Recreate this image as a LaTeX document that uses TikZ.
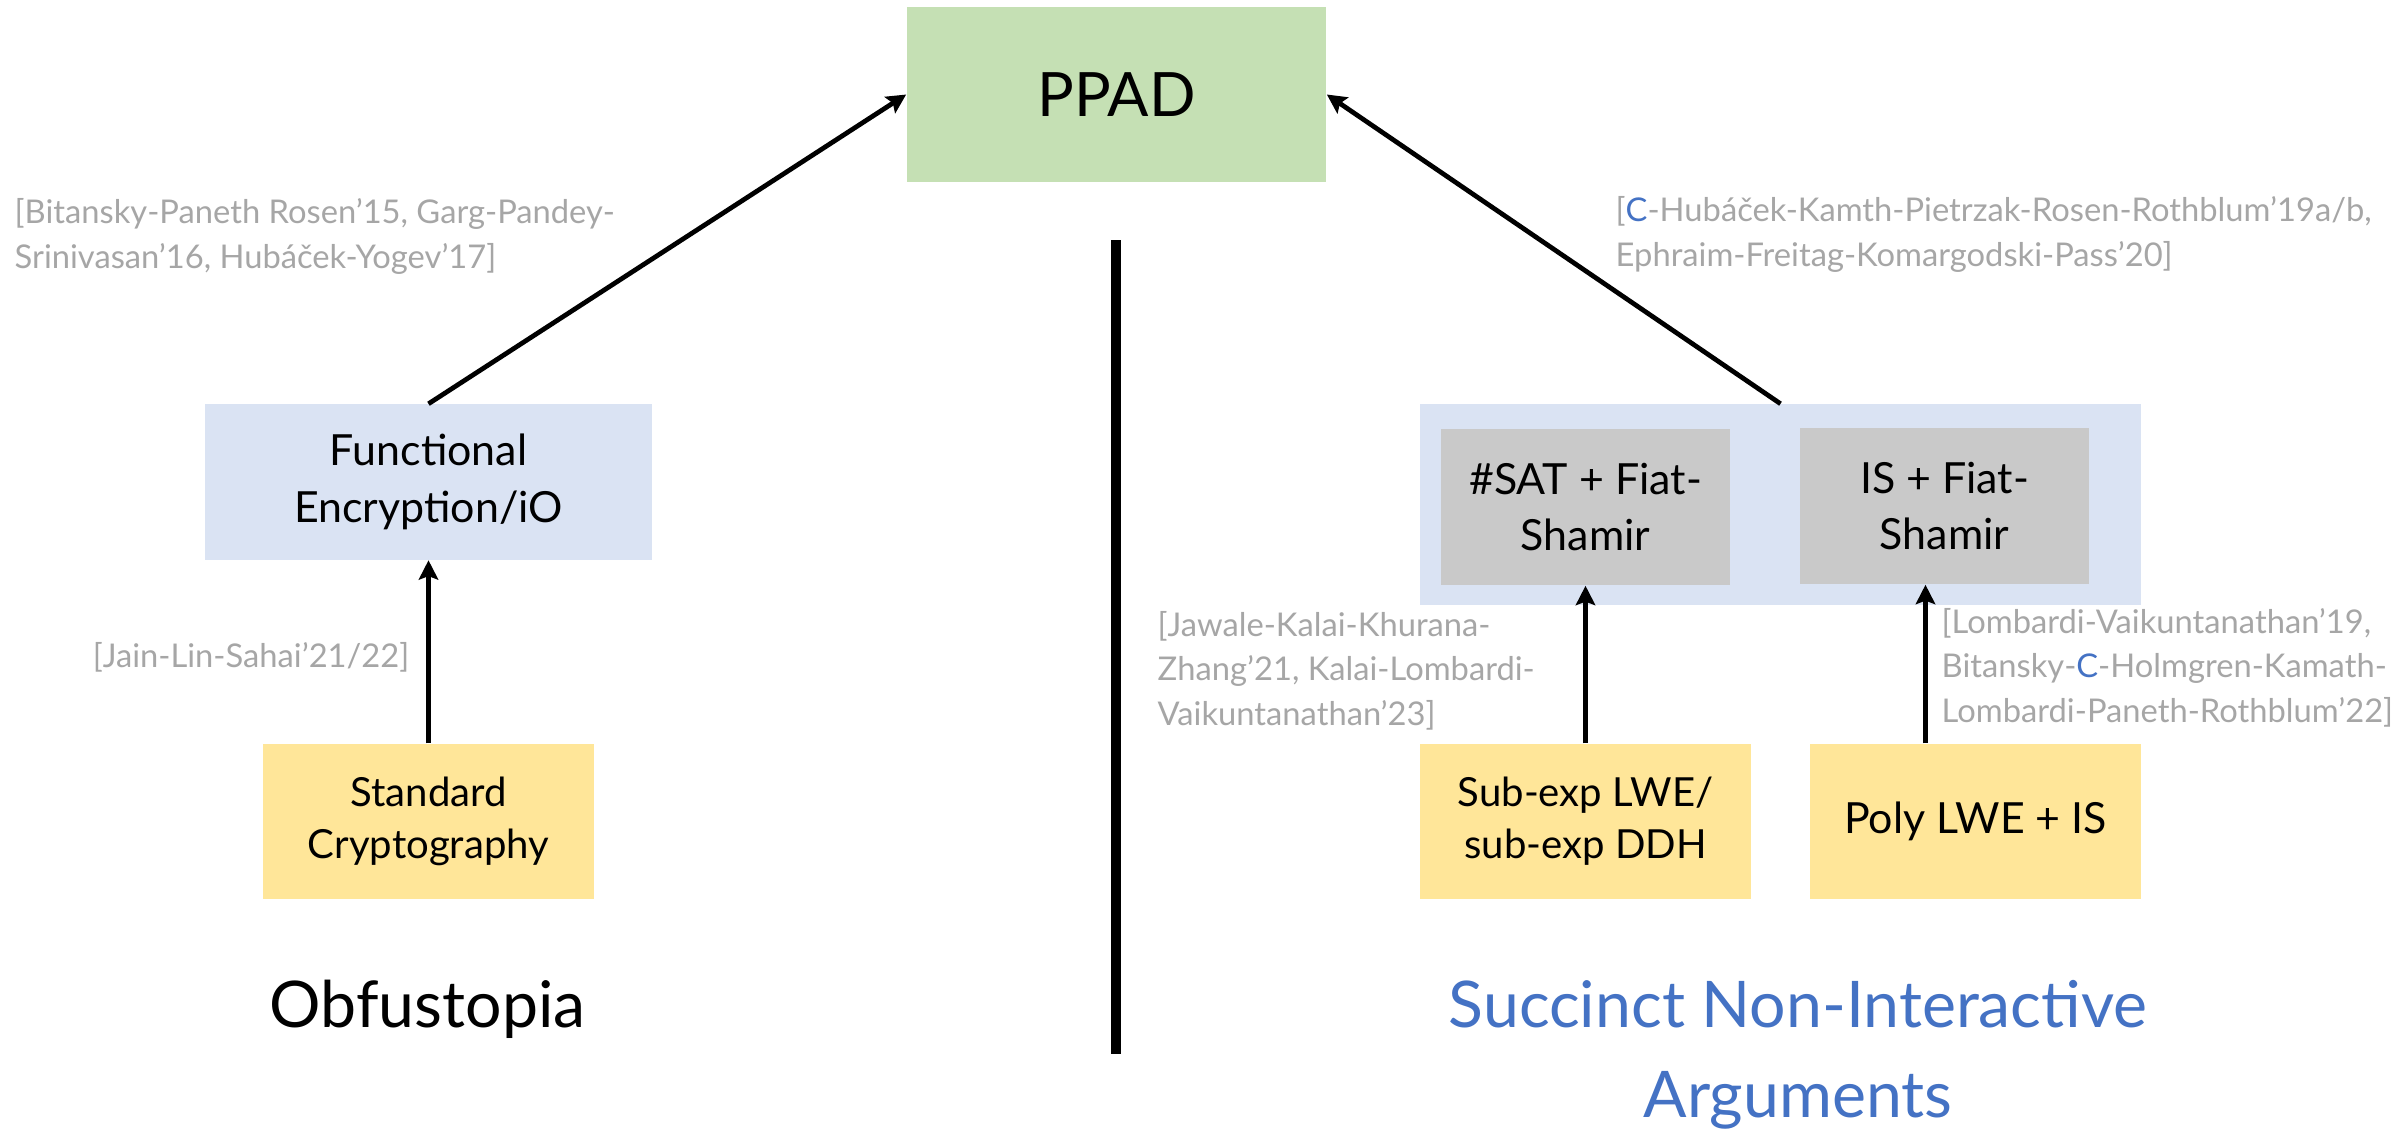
\documentclass[tikz,border=0pt]{standalone}
\usepackage{fontspec}
\setmainfont{Lato}
\usetikzlibrary{arrows.meta}
\definecolor{ppadgreen}{HTML}{C5E0B4}
\definecolor{paleblue}{HTML}{DAE3F3}
\definecolor{assumpyellow}{HTML}{FFE699}
\definecolor{boxgray}{HTML}{C9C9C9}
\definecolor{citegray}{HTML}{A6A6A6}
\definecolor{titleblue}{HTML}{4472C4}
\begin{document}
\begin{tikzpicture}[x=0.01cm, y=-0.01cm, >={Stealth[length=5.5pt,width=5.5pt,inset=1pt]}, line join=round,
		box/.style={inner sep=0pt, align=center, font=\fontsize{12.2}{16.2}\selectfont},
		smallbox/.style={box, font=\fontsize{11.4}{14.8}\selectfont},
		cite/.style={inner sep=0pt, align=left, text=citegray, font=\fontsize{9.3}{12.6}\selectfont},
		title/.style={inner sep=0pt, align=center, font=\fontsize{18.3}{25.6}\selectfont},
		implies/.style={->, line width=1.35pt}]
	\useasboundingbox (0,0) rectangle (2394,1129);
	\node[box, fill=ppadgreen, minimum width=4.19cm, minimum height=1.75cm, font=\fontsize{17.4}{22}\selectfont] (ppad) at (1116.5,94.5) {PPAD};
	\draw[line width=3.1pt] (1116,240) -- (1116,1054);
	% obfustopia side
	\node[box, fill=paleblue, minimum width=4.47cm, minimum height=1.55cm] (fe) at (428.5,482) {Functional\\Encryption/iO};
	\node[smallbox, fill=assumpyellow, minimum width=3.31cm, minimum height=1.55cm] (std) at (428.5,821.5) {Standard\\Cryptography};
	\draw[implies] (std.north) -- (fe.south);
	\draw[implies] (fe.north) -- (ppad.west);
	\node[cite, anchor=base west] (citebpr) at (14,268) {[Bitansky-Paneth Rosen’15, Garg-Pandey-\\Srinivasan’16, Hubáček-Yogev’17]};
	\node[cite, anchor=base east] (citejls) at (410,667) {[Jain-Lin-Sahai’21/22]};
	\node[title, anchor=base] (obf) at (427.5,1027) {Obfustopia};
	% succinct arguments side
	\node[fill=paleblue, minimum width=7.21cm, minimum height=2cm, inner sep=0pt] (snark) at (1780.5,504.5) {};
	\node[box, fill=boxgray, minimum width=2.89cm, minimum height=1.56cm] (sharp) at (1585.5,507) {\#SAT + Fiat-\\Shamir};
	\node[box, fill=boxgray, minimum width=2.89cm, minimum height=1.56cm] (isfs) at (1944.5,506) {IS + Fiat-\\Shamir};
	\node[smallbox, fill=assumpyellow, minimum width=3.31cm, minimum height=1.55cm] (subexp) at (1585.5,821.5) {Sub-exp LWE/\\sub-exp DDH};
	\node[box, fill=assumpyellow, minimum width=3.31cm, minimum height=1.55cm] (poly) at (1975.5,821.5) {Poly LWE + IS};
	\draw[implies] (subexp.north) -- (sharp.south);
	\draw[implies] ([xshift=-0.5cm]poly.north) -- ([xshift=-0.5cm]poly.north |- isfs.south);
	\draw[implies] (snark.north) -- (ppad.east);
	\node[cite, anchor=base west] (citechk) at (1615,266) {[\textcolor{titleblue}{C}-Hubáček-Kamth-Pietrzak-Rosen-Rothblum’19a/b,\\Ephraim-Freitag-Komargodski-Pass’20]};
	\node[cite, anchor=base west] (citejkkz) at (1157,725) {[Jawale-Kalai-Khurana-\\Zhang’21, Kalai-Lombardi-\\Vaikuntanathan’23]};
	\node[cite, anchor=base west] (citelv) at (1941,722) {[Lombardi-Vaikuntanathan’19,\\Bitansky-\textcolor{titleblue}{C}-Holmgren-Kamath-\\Lombardi-Paneth-Rothblum’22]};
	\node[title, anchor=base, text=titleblue] (sna) at (1798,1117) {Succinct Non-Interactive\\Arguments};
\end{tikzpicture}
\end{document}
